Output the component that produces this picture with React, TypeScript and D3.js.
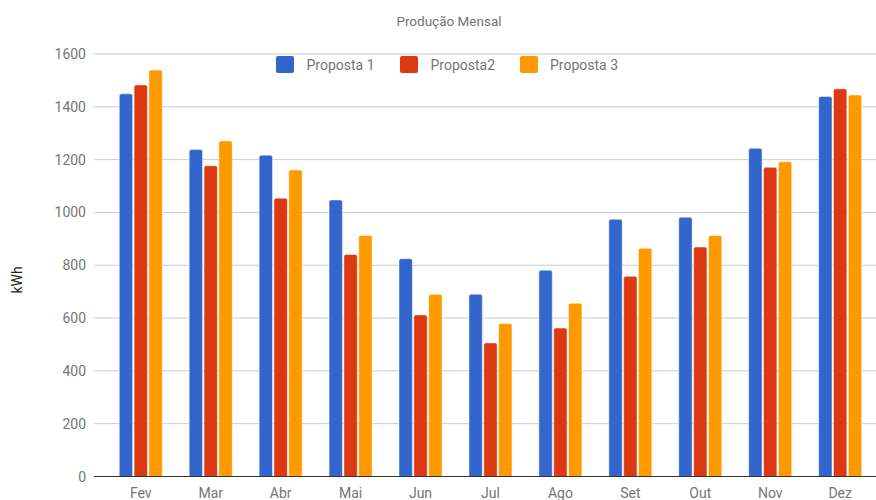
import React from "react";
import * as d3 from "d3";

const months = ["Fev", "Mar", "Abr", "Mai", "Jun", "Jul", "Ago", "Set", "Out", "Nov", "Dez"];
const seriesNames = ["Proposta 1", "Proposta2", "Proposta 3"];
const proposta1 = [1449, 1238, 1217, 1047, 825, 690, 781, 974, 982, 1243, 1439];
const proposta2 = [1483, 1177, 1054, 841, 612, 506, 562, 758, 869, 1171, 1468];
const proposta3 = [1539, 1271, 1161, 913, 690, 579, 656, 864, 913, 1192, 1445];
const yTicks = [0, 200, 400, 600, 800, 1000, 1200, 1400, 1600];
const colors = ["#3366cc", "#dc3912", "#ff9900"];

const W = 876;
const H = 500;
const FONT = "Roboto, 'Liberation Sans', Arial, sans-serif";

export default function App() {
  const series = [proposta1, proposta2, proposta3];

  const y = d3.scaleLinear().domain([0, 1600]).range([476.5, 54]);
  const x = d3
    .scaleBand<string>()
    .domain(months)
    .range([105.8, 105.8 + 69.94 * months.length])
    .paddingInner(0.385)
    .paddingOuter(0.1925);
  const xs = d3
    .scaleBand<string>()
    .domain(seriesNames)
    .range([0, x.bandwidth()])
    .paddingInner(0.1);

  const gridLeft = 94;
  const gridRight = W;

  const legendItems = [
    { sq: 276, tx: 306.5 },
    { sq: 400, tx: 430.5 },
    { sq: 520, tx: 550 },
  ];

  return (
    <svg
      width={W}
      height={H}
      style={{ position: "absolute", left: 0, top: 0, background: "#fff" }}
      fontFamily={FONT}
    >
      <rect width={W} height={H} fill="#fff" />
      <text x={449} y={26} textAnchor="middle" fontSize={13.5} fill="#757575">
        Produção Mensal
      </text>

      {/* gridlines and y axis labels */}
      {yTicks.map((t) =>
        t === 0 ? null : (
          <line key={"g" + t} x1={gridLeft} x2={gridRight} y1={y(t)} y2={y(t)} stroke="#cccccc" strokeWidth={1} />
        )
      )}
      {yTicks.map((t) => (
        <text key={"t" + t} x={86} y={y(t) + 5} textAnchor="end" fontSize={14} fill="#757575">
          {t}
        </text>
      ))}

      <text
        transform={`translate(22,280) rotate(-90)`}
        textAnchor="middle"
        fontSize={14}
        fill="#222"
      >
        kWh
      </text>

      {/* bars */}
      {months.map((m, i) => (
        <g key={m} transform={`translate(${x(m)},0)`}>
          {series.map((s, j) => {
            const top = y(s[i]);
            const h = y(0) - top;
            return (
              <path
                key={j}
                d={`M${xs(seriesNames[j])},${y(0)} V${top + 2} q0,-2 2,-2 H${
                  (xs(seriesNames[j]) as number) + xs.bandwidth() - 2
                } q2,0 2,2 V${y(0)} Z`}
                fill={colors[j]}
                stroke="#fff"
                strokeOpacity={0.6}
                strokeWidth={h > 0 ? 0.8 : 0}
              />
            );
          })}
        </g>
      ))}

      {/* baseline */}
      <line x1={gridLeft} x2={gridRight} y1={y(0)} y2={y(0)} stroke="#333" strokeWidth={1} />

      {/* x labels */}
      {months.map((m) => (
        <text
          key={"x" + m}
          x={(x(m) as number) + x.bandwidth() / 2}
          y={498}
          textAnchor="middle"
          fontSize={14}
          fill="#757575"
        >
          {m}
        </text>
      ))}

      {/* legend */}
      {seriesNames.map((n, j) => (
        <g key={n}>
          <rect x={legendItems[j].sq} y={56} width={18} height={17} rx={2} fill={colors[j]} />
          <text x={legendItems[j].tx} y={70} fontSize={14} fill="#757575">
            {n}
          </text>
        </g>
      ))}
    </svg>
  );
}
